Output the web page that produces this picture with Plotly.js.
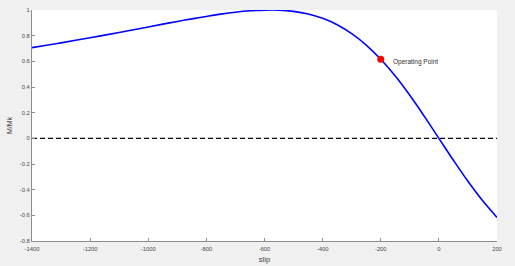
<!DOCTYPE html>
<html><head><meta charset="utf-8">
<script src="https://cdn.plot.ly/plotly-3.0.1.min.js"></script>
<style>html,body{margin:0;padding:0;background:#f0f0f0;}</style>
</head><body>
<div id="chart" style="width:515px;height:266px;"></div>
<script>
// Values
var slip = [-1400,-1350,-1300,-1250,-1200,-1150,-1100,-1050,-1000,-950,-900,-850,-800,-750,-700,-650,-600,-550,-500,-450,-400,-350,-300,-250,-200,-150,-100,-50,0,50,100,150,200];
var torque = [0.707,0.725,0.744,0.764,0.784,0.804,0.825,0.846,0.868,0.890,0.911,0.931,0.950,0.968,0.983,0.994,0.999,0.999,0.989,0.969,0.935,0.885,0.816,0.727,0.616,0.485,0.335,0.171,0.0,-0.171,-0.335,-0.485,-0.616];
var zeroX = [-1400, 200];
var zeroY = [0, 0];
var opX = [-200];
var opY = [0.616];
var opLabel = "Operating Point";
var xTicks = [-1400,-1200,-1000,-800,-600,-400,-200,0,200];
var yTicks = [-0.8,-0.6,-0.4,-0.2,0,0.2,0.4,0.6,0.8,1];

var traces = [
  {x: slip, y: torque, mode: 'lines', line: {color: '#0000ff', width: 1.6, shape: 'spline'}, hoverinfo: 'skip'},
  {x: zeroX, y: zeroY, mode: 'lines', line: {color: '#000000', width: 1.3, dash: '5px,3px'}, hoverinfo: 'skip'},
  {x: opX, y: opY, mode: 'markers', marker: {color: '#ff0000', size: 7}, hoverinfo: 'skip'}
];

var axisCommon = {
  showline: true, linecolor: '#8c8c8c', linewidth: 1,
  ticks: 'inside', ticklen: 3, tickcolor: '#8c8c8c', tickwidth: 1,
  showgrid: false, zeroline: false,
  tickfont: {size: 5.8, color: '#4a4a4a', family: 'Liberation Sans, Arial, sans-serif'}
};

var layout = {
  width: 515, height: 266,
  paper_bgcolor: '#f0f0f0', plot_bgcolor: '#ffffff',
  margin: {l: 32, r: 18, t: 10, b: 25},
  showlegend: false,
  font: {family: 'Liberation Sans, Arial, sans-serif', color: '#404040'},
  xaxis: Object.assign({}, axisCommon, {
    range: [-1400, 200], tickvals: xTicks, ticktext: xTicks.map(String),
    ticklabelstandoff: 2,
    title: {text: 'slip', font: {size: 7.5, color: '#404040'}, standoff: 5}
  }),
  yaxis: Object.assign({}, axisCommon, {
    range: [-0.8, 1], tickvals: yTicks, ticktext: yTicks.map(String),
    title: {text: 'M/Mk', font: {size: 7, color: '#404040'}, standoff: 6}
  }),
  annotations: [{
    x: opX[0], y: opY[0], xref: 'x', yref: 'y', text: opLabel, showarrow: false,
    xanchor: 'left', yanchor: 'middle', xshift: 10, yshift: -3,
    font: {size: 6.5, color: '#303030'}
  }]
};

Plotly.newPlot('chart', traces, layout, {displayModeBar: false, staticPlot: true});
</script>
</body></html>
